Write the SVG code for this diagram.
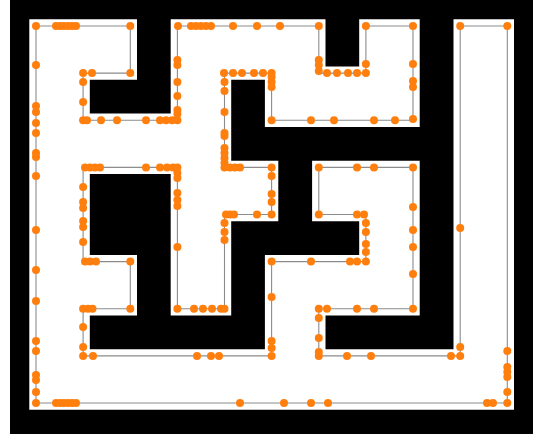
<svg xmlns="http://www.w3.org/2000/svg" width="540" height="434" viewBox="0 0 540 434">
<style>
.d{fill:#ff7f0e}
.path{fill:none;stroke:#8c8c8c;stroke-width:1.1}
.white{fill:#fff;stroke:#fff;stroke-width:13.4;stroke-linejoin:miter}
</style>
<defs>
<path id="loop" d="M36,26 H130.3 V73.1 H83.1 V120.3 H177.4 V26 H318.8 V73.1 H365.9 V26 H413 V120.3 H271.6 V73.1 H224.5 V167.4 H271.6 V214.5 H224.5 V308.8 H177.4 V167.4 H83.1 V261.6 H130.3 V308.8 H83.1 V355.9 H271.6 V261.6 H365.9 V214.5 H318.8 V167.4 H413 V308.8 H318.8 V355.9 H460.2 V26 H507.3 V403 H36 Z"/>
</defs>
<rect x="0" y="0" width="540" height="434" fill="#fff"/>
<rect id="walls" x="10" y="0" width="523" height="434" fill="#000"/>
<use href="#loop" class="white"/>
<g id="connectors">
<use href="#loop" class="path"/>
</g>
<g id="dots">
<!-- top row -->
<circle class="d" cx="36" cy="26" r="4"/>
<circle class="d" cx="56" cy="26" r="4"/><circle class="d" cx="60" cy="26" r="4"/><circle class="d" cx="64" cy="26" r="4"/><circle class="d" cx="68" cy="26" r="4"/><circle class="d" cx="72" cy="26" r="4"/><circle class="d" cx="76" cy="26" r="4"/>
<circle class="d" cx="130.3" cy="26" r="4"/>
<circle class="d" cx="178" cy="26" r="4"/><circle class="d" cx="191" cy="26" r="4"/><circle class="d" cx="196" cy="26" r="4"/><circle class="d" cx="201" cy="26" r="4"/><circle class="d" cx="206" cy="26" r="4"/><circle class="d" cx="211" cy="26" r="4"/>
<circle class="d" cx="233" cy="26" r="4"/><circle class="d" cx="257" cy="26" r="4"/><circle class="d" cx="280" cy="26" r="4"/><circle class="d" cx="318.8" cy="26" r="4"/>
<circle class="d" cx="365.9" cy="26" r="4"/><circle class="d" cx="413" cy="26" r="4"/><circle class="d" cx="460.2" cy="26" r="4"/><circle class="d" cx="507.3" cy="26" r="4"/>
<!-- left column -->
<circle class="d" cx="36" cy="65" r="4"/><circle class="d" cx="36" cy="106" r="4"/><circle class="d" cx="36" cy="112" r="4"/><circle class="d" cx="36" cy="123" r="4"/><circle class="d" cx="36" cy="133" r="4"/><circle class="d" cx="36" cy="153" r="4"/><circle class="d" cx="36" cy="157" r="4"/><circle class="d" cx="36" cy="176" r="4"/><circle class="d" cx="36" cy="230" r="4"/><circle class="d" cx="36" cy="270" r="4"/><circle class="d" cx="36" cy="301" r="4"/><circle class="d" cx="36" cy="341" r="4"/><circle class="d" cx="36" cy="351" r="4"/><circle class="d" cx="36" cy="375" r="4"/><circle class="d" cx="36" cy="380" r="4"/><circle class="d" cx="36" cy="392" r="4"/><circle class="d" cx="36" cy="403" r="4"/>
<!-- bottom row -->
<circle class="d" cx="56" cy="403" r="4"/><circle class="d" cx="60" cy="403" r="4"/><circle class="d" cx="64" cy="403" r="4"/><circle class="d" cx="68" cy="403" r="4"/><circle class="d" cx="72" cy="403" r="4"/><circle class="d" cx="76" cy="403" r="4"/>
<circle class="d" cx="240" cy="403" r="4"/><circle class="d" cx="284" cy="403" r="4"/><circle class="d" cx="311" cy="403" r="4"/><circle class="d" cx="328" cy="403" r="4"/><circle class="d" cx="487" cy="403" r="4"/><circle class="d" cx="493" cy="403" r="4"/><circle class="d" cx="507.3" cy="403" r="4"/>
<!-- right column -->
<circle class="d" cx="507.3" cy="351" r="4"/><circle class="d" cx="507.3" cy="367" r="4"/><circle class="d" cx="507.3" cy="372" r="4"/><circle class="d" cx="507.3" cy="377" r="4"/><circle class="d" cx="507.3" cy="392" r="4"/>
<circle class="d" cx="460.2" cy="228" r="4"/><circle class="d" cx="460.2" cy="347" r="4"/><circle class="d" cx="460.2" cy="355.9" r="4"/><circle class="d" cx="451" cy="355.9" r="4"/>
<!-- inner bottom right row -->
<circle class="d" cx="318.8" cy="352" r="4"/><circle class="d" cx="318.8" cy="355.9" r="4"/><circle class="d" cx="347" cy="355.9" r="4"/><circle class="d" cx="371" cy="355.9" r="4"/>
<circle class="d" cx="318.8" cy="308.8" r="4"/><circle class="d" cx="327" cy="308.8" r="4"/><circle class="d" cx="318.8" cy="318" r="4"/><circle class="d" cx="318.8" cy="338" r="4"/>
<circle class="d" cx="357" cy="308.8" r="4"/><circle class="d" cx="374" cy="308.8" r="4"/><circle class="d" cx="413" cy="308.8" r="4"/>
<circle class="d" cx="413" cy="207" r="4"/><circle class="d" cx="413" cy="230" r="4"/><circle class="d" cx="413" cy="247" r="4"/><circle class="d" cx="413" cy="274" r="4"/>
<circle class="d" cx="318.8" cy="167.4" r="4"/><circle class="d" cx="357" cy="167.4" r="4"/><circle class="d" cx="374" cy="167.4" r="4"/><circle class="d" cx="413" cy="167.4" r="4"/>
<circle class="d" cx="318.8" cy="214.5" r="4"/><circle class="d" cx="357" cy="214.5" r="4"/><circle class="d" cx="364" cy="214.5" r="4"/>
<circle class="d" cx="365.9" cy="223" r="4"/><circle class="d" cx="365.9" cy="232" r="4"/><circle class="d" cx="365.9" cy="244" r="4"/><circle class="d" cx="365.9" cy="252" r="4"/><circle class="d" cx="365.9" cy="261.6" r="4"/>
<circle class="d" cx="350" cy="261.6" r="4"/><circle class="d" cx="357" cy="261.6" r="4"/><circle class="d" cx="311" cy="261.6" r="4"/><circle class="d" cx="271.6" cy="261.6" r="4"/>
<circle class="d" cx="271.6" cy="297" r="4"/><circle class="d" cx="271.6" cy="341" r="4"/><circle class="d" cx="271.6" cy="348" r="4"/><circle class="d" cx="271.6" cy="355.9" r="4"/>
<!-- inner bottom left row -->
<circle class="d" cx="83.1" cy="355.9" r="4"/><circle class="d" cx="93" cy="355.9" r="4"/><circle class="d" cx="197" cy="355.9" r="4"/><circle class="d" cx="211" cy="355.9" r="4"/><circle class="d" cx="219" cy="355.9" r="4"/>
<circle class="d" cx="83.1" cy="308.8" r="4"/><circle class="d" cx="88" cy="308.8" r="4"/><circle class="d" cx="92.5" cy="308.8" r="4"/><circle class="d" cx="130.3" cy="308.8" r="4"/><circle class="d" cx="83.1" cy="327" r="4"/><circle class="d" cx="83.1" cy="347" r="4"/>
<circle class="d" cx="130.3" cy="261.6" r="4"/><circle class="d" cx="85" cy="261.6" r="4"/><circle class="d" cx="90" cy="261.6" r="4"/><circle class="d" cx="96" cy="261.6" r="4"/>
<circle class="d" cx="85" cy="167.4" r="4"/><circle class="d" cx="90" cy="167.4" r="4"/><circle class="d" cx="95" cy="167.4" r="4"/><circle class="d" cx="100" cy="167.4" r="4"/>
<circle class="d" cx="83.1" cy="187" r="4"/><circle class="d" cx="83.1" cy="202" r="4"/><circle class="d" cx="83.1" cy="208" r="4"/><circle class="d" cx="83.1" cy="221" r="4"/><circle class="d" cx="83.1" cy="227" r="4"/><circle class="d" cx="83.1" cy="242" r="4"/>
<circle class="d" cx="146" cy="167.4" r="4"/><circle class="d" cx="160" cy="167.4" r="4"/><circle class="d" cx="167" cy="167.4" r="4"/><circle class="d" cx="173" cy="167.4" r="4"/><circle class="d" cx="177.4" cy="167.4" r="4"/>
<circle class="d" cx="177.4" cy="173" r="4"/><circle class="d" cx="177.4" cy="178" r="4"/><circle class="d" cx="177.4" cy="193" r="4"/><circle class="d" cx="177.4" cy="200" r="4"/><circle class="d" cx="177.4" cy="206" r="4"/><circle class="d" cx="177.4" cy="247" r="4"/>
<circle class="d" cx="177.4" cy="308.8" r="4"/><circle class="d" cx="194" cy="308.8" r="4"/><circle class="d" cx="203" cy="308.8" r="4"/><circle class="d" cx="212" cy="308.8" r="4"/><circle class="d" cx="221" cy="308.8" r="4"/><circle class="d" cx="224.5" cy="308.8" r="4"/>
<circle class="d" cx="224.5" cy="223" r="4"/><circle class="d" cx="224.5" cy="232" r="4"/><circle class="d" cx="224.5" cy="240" r="4"/>
<circle class="d" cx="226" cy="214.5" r="4"/><circle class="d" cx="230" cy="214.5" r="4"/><circle class="d" cx="234" cy="214.5" r="4"/><circle class="d" cx="257" cy="214.5" r="4"/><circle class="d" cx="271.6" cy="214.5" r="4"/>
<circle class="d" cx="271.6" cy="167.4" r="4"/><circle class="d" cx="271.6" cy="176" r="4"/><circle class="d" cx="271.6" cy="194" r="4"/><circle class="d" cx="271.6" cy="202" r="4"/>
<circle class="d" cx="230" cy="167.4" r="4"/><circle class="d" cx="235" cy="167.4" r="4"/><circle class="d" cx="240" cy="167.4" r="4"/>
<circle class="d" cx="224.5" cy="148" r="4"/><circle class="d" cx="224.5" cy="153" r="4"/><circle class="d" cx="224.5" cy="158" r="4"/><circle class="d" cx="224.5" cy="163" r="4"/><circle class="d" cx="224.5" cy="167.4" r="4"/>
<circle class="d" cx="224.5" cy="133" r="4"/><circle class="d" cx="224.5" cy="136" r="4"/><circle class="d" cx="224.5" cy="112" r="4"/><circle class="d" cx="224.5" cy="91" r="4"/><circle class="d" cx="224.5" cy="82" r="4"/>
<!-- upper middle -->
<circle class="d" cx="224" cy="73.1" r="4"/><circle class="d" cx="233" cy="73.1" r="4"/><circle class="d" cx="242" cy="73.1" r="4"/><circle class="d" cx="254" cy="73.1" r="4"/><circle class="d" cx="263" cy="73.1" r="4"/><circle class="d" cx="271.6" cy="73.1" r="4"/>
<circle class="d" cx="271.6" cy="77" r="4"/><circle class="d" cx="271.6" cy="82" r="4"/><circle class="d" cx="271.6" cy="87" r="4"/><circle class="d" cx="271.6" cy="120.3" r="4"/>
<circle class="d" cx="311" cy="120.3" r="4"/><circle class="d" cx="334" cy="120.3" r="4"/><circle class="d" cx="374" cy="120.3" r="4"/><circle class="d" cx="395" cy="120.3" r="4"/><circle class="d" cx="413" cy="119" r="4"/>
<circle class="d" cx="413" cy="64" r="4"/><circle class="d" cx="413" cy="81" r="4"/><circle class="d" cx="413" cy="87" r="4"/>
<circle class="d" cx="365.9" cy="64" r="4"/><circle class="d" cx="365.9" cy="73.1" r="4"/>
<circle class="d" cx="327" cy="73.1" r="4"/><circle class="d" cx="337" cy="73.1" r="4"/><circle class="d" cx="348" cy="73.1" r="4"/><circle class="d" cx="357" cy="73.1" r="4"/>
<circle class="d" cx="318.8" cy="60" r="4"/><circle class="d" cx="318.8" cy="65" r="4"/><circle class="d" cx="318.8" cy="71" r="4"/>
<!-- upper left -->
<circle class="d" cx="177.4" cy="60" r="4"/><circle class="d" cx="177.4" cy="65" r="4"/><circle class="d" cx="177.4" cy="82" r="4"/><circle class="d" cx="177.4" cy="96" r="4"/><circle class="d" cx="177.4" cy="110" r="4"/><circle class="d" cx="177.4" cy="114" r="4"/><circle class="d" cx="177.4" cy="120.3" r="4"/>
<circle class="d" cx="172" cy="120.3" r="4"/><circle class="d" cx="166" cy="120.3" r="4"/><circle class="d" cx="160" cy="120.3" r="4"/><circle class="d" cx="146" cy="120.3" r="4"/><circle class="d" cx="117" cy="120.3" r="4"/><circle class="d" cx="101" cy="120.3" r="4"/><circle class="d" cx="87" cy="120.3" r="4"/><circle class="d" cx="83.1" cy="120.3" r="4"/>
<circle class="d" cx="83.1" cy="102" r="4"/><circle class="d" cx="83.1" cy="82" r="4"/><circle class="d" cx="83.1" cy="73.1" r="4"/><circle class="d" cx="92" cy="73.1" r="4"/><circle class="d" cx="130.3" cy="73.1" r="4"/>
</g>
</svg>
